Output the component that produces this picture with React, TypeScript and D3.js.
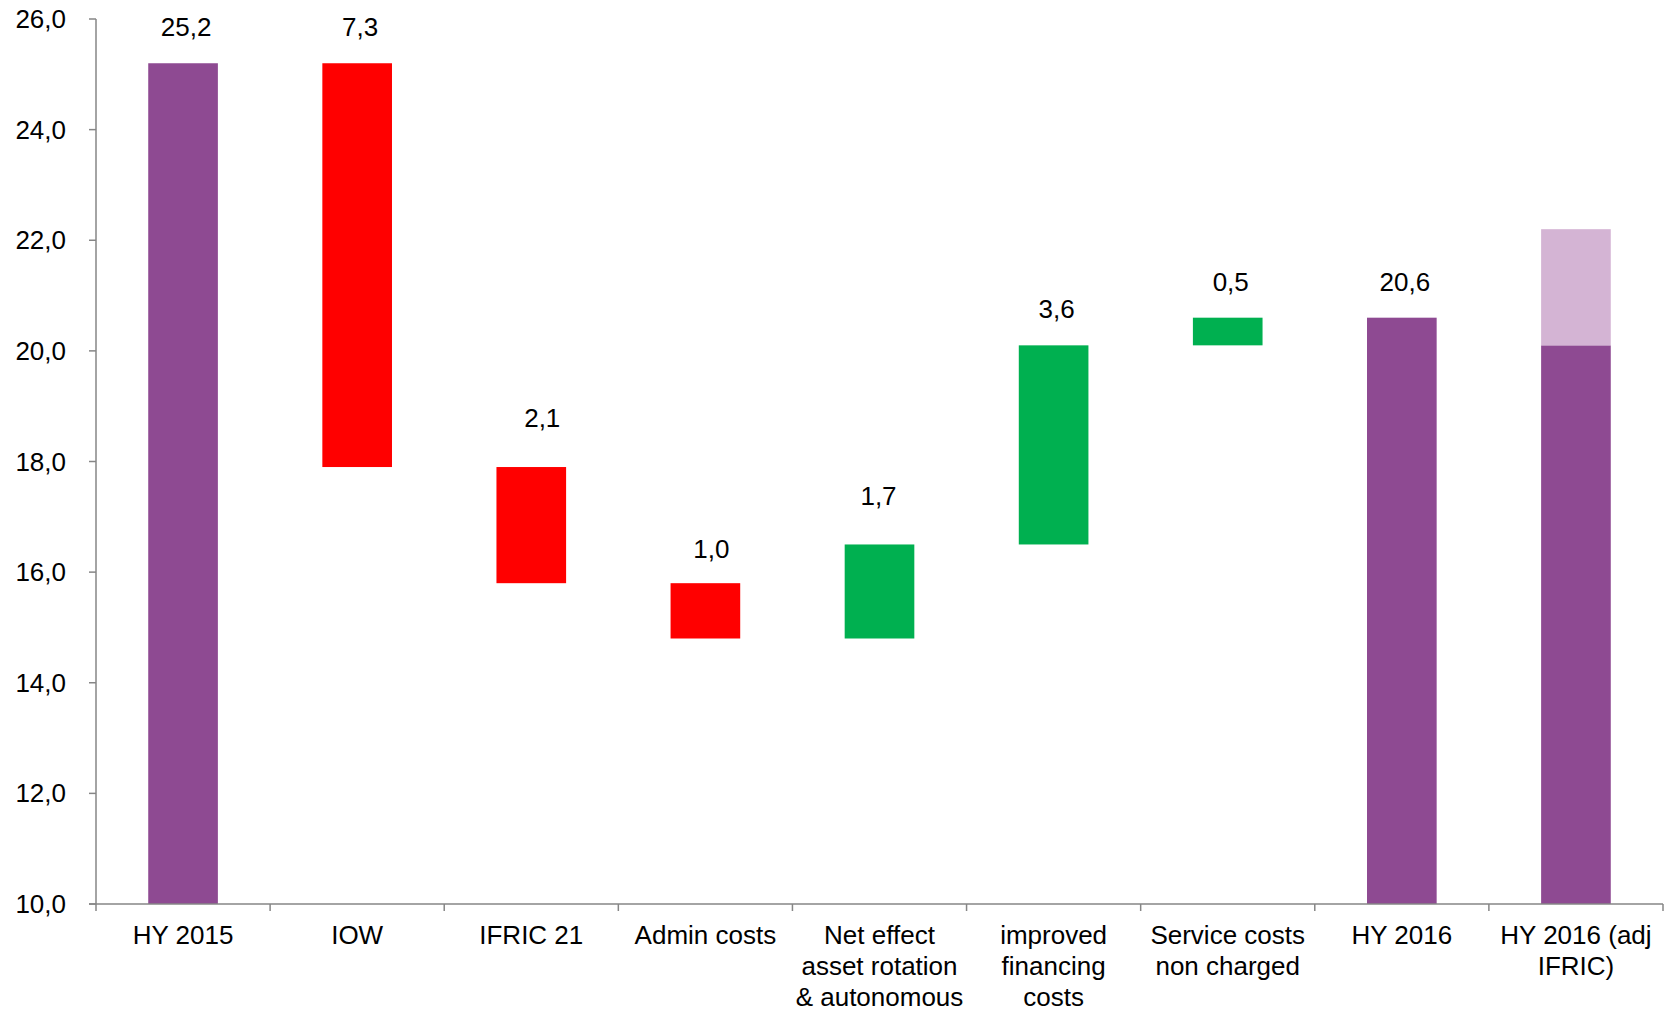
import React from "react";
import * as d3 from "d3";

const categories = [
  "HY 2015",
  "IOW",
  "IFRIC 21",
  "Admin costs",
  "Net effect asset rotation & autonomous",
  "improved financing costs",
  "Service costs non charged",
  "HY 2016",
  "HY 2016 (adj IFRIC)",
];
const categoryLines = [
  ["HY 2015"],
  ["IOW"],
  ["IFRIC 21"],
  ["Admin costs"],
  ["Net effect", "asset rotation", "& autonomous"],
  ["improved", "financing", "costs"],
  ["Service costs", "non charged"],
  ["HY 2016"],
  ["HY 2016 (adj", "IFRIC)"],
];
// bar segments: base, top, kind
const barBase = [10, 17.9, 15.8, 14.8, 14.8, 16.5, 20.1, 10, 10];
const barTop = [25.2, 25.2, 17.9, 15.8, 16.5, 20.1, 20.6, 20.6, 20.1];
const barKind = ["total", "neg", "neg", "neg", "pos", "pos", "pos", "total", "total"];
const extraBase = [null, null, null, null, null, null, null, null, 20.1];
const extraTop = [null, null, null, null, null, null, null, null, 22.2];
const valueLabels = ["25,2", "7,3", "2,1", "1,0", "1,7", "3,6", "0,5", "20,6", ""];
const yTicks = [10, 12, 14, 16, 18, 20, 22, 24, 26];

const colors: Record<string, string> = {
  total: "#8E4A92",
  neg: "#FF0000",
  pos: "#00B050",
  light: "#D4B4D4",
};

// small label nudges (styling), [dx, dy] in px
const labelNudge: Record<string, [number, number]> = {
  "2,1": [8, -13],
  "1,7": [-4, -12],
  "1,0": [3, 2],
};

export default function App() {
  const left = 96;
  const right = 1663;
  const top = 19;
  const bottom = 904;
  const band = d3.scaleBand<string>().domain(categories).range([left, right]);
  const y = d3.scaleLinear().domain([10, 26]).range([bottom, top]);
  const font = "Arial, 'Liberation Sans', sans-serif";
  const axisColor = "#868686";
  const bw = band.bandwidth() / 2.5;
  const fs = 26;

  return (
    <svg
      width={1675}
      height={1013}
      style={{ position: "absolute", left: 0, top: 0, background: "#fff" }}
      fontFamily={font}
    >
      {categories.map((c, i) => {
        const cx = (band(c) as number) + band.bandwidth() / 2;
        const y0 = y(barBase[i]);
        const y1 = y(barTop[i]);
        const nudge = labelNudge[valueLabels[i]] || [0, 0];
        return (
          <g key={c}>
            <rect x={cx - bw / 2} y={y1} width={bw} height={y0 - y1} fill={colors[barKind[i]]} />
            {extraTop[i] != null && (
              <rect
                x={cx - bw / 2}
                y={y(extraTop[i] as number)}
                width={bw}
                height={y(extraBase[i] as number) - y(extraTop[i] as number)}
                fill={colors.light}
              />
            )}
            {valueLabels[i] && (
              <text
                x={cx + 3 + nudge[0]}
                y={y1 - 27 + nudge[1]}
                textAnchor="middle"
                fontSize={fs}
                fill="#000"
              >
                {valueLabels[i]}
              </text>
            )}
            {categoryLines[i].map((ln, j) => (
              <text key={j} x={cx} y={bottom + 40 + j * 31} textAnchor="middle" fontSize={fs} fill="#000">
                {ln}
              </text>
            ))}
          </g>
        );
      })}
      {/* y axis */}
      <line x1={left} x2={left} y1={y(26)} y2={bottom} stroke={axisColor} strokeWidth={1.5} />
      {yTicks.map((t) => (
        <g key={t}>
          <line x1={left - 7} x2={left} y1={y(t)} y2={y(t)} stroke={axisColor} strokeWidth={1.5} />
          <text x={left - 30} y={y(t) + 9} textAnchor="end" fontSize={fs} fill="#000">
            {t.toFixed(1).replace(".", ",")}
          </text>
        </g>
      ))}
      {/* x axis */}
      <line x1={left - 7} x2={right} y1={bottom} y2={bottom} stroke={axisColor} strokeWidth={1.5} />
      {categories.map((c) => (
        <line
          key={c}
          x1={band(c) as number}
          x2={band(c) as number}
          y1={bottom}
          y2={bottom + 7}
          stroke={axisColor}
          strokeWidth={1.5}
        />
      ))}
      <line x1={right} x2={right} y1={bottom} y2={bottom + 7} stroke={axisColor} strokeWidth={1.5} />
    </svg>
  );
}
